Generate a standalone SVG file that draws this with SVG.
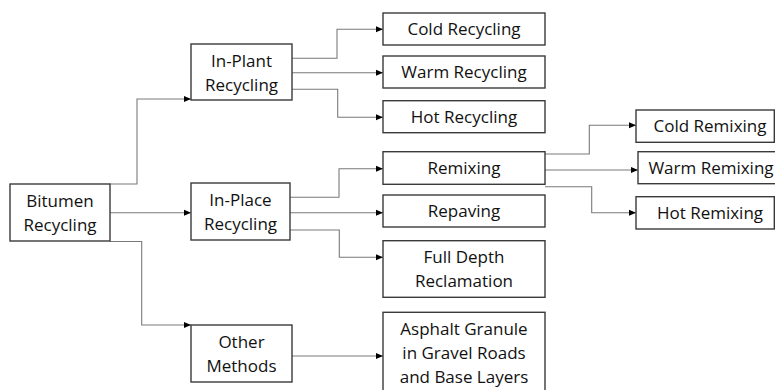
<svg xmlns="http://www.w3.org/2000/svg" width="775" height="390" viewBox="0 0 775 390">
<style>
.box{fill:#fff;stroke:#3a3a3a;stroke-width:1.4}
.t{font-family:"Open Sans","Liberation Sans",sans-serif;font-size:17px;fill:#111;text-anchor:middle}
.c{fill:none;stroke:#7a7a7a;stroke-width:1.1;marker-end:url(#ah)}
</style>
<defs>
<marker id="ah" markerUnits="userSpaceOnUse" markerWidth="8" markerHeight="8" refX="7" refY="4" orient="auto">
<path d="M0,1 L7,4 L0,7 Z" fill="#000"/>
</marker>
</defs>
<rect width="775" height="390" fill="#fff"/>
<g id="connectors">
<path class="c" d="M110,184 H137 V99 H191"/>
<path class="c" d="M110,212.7 H191"/>
<path class="c" d="M110,241.5 H141.7 V325 H191"/>
<path class="c" d="M292,58.3 H337 V29.3 H383"/>
<path class="c" d="M292,72.7 H383"/>
<path class="c" d="M292,89.3 H337.7 V117.3 H383"/>
<path class="c" d="M290,197.3 H339 V168.7 H383"/>
<path class="c" d="M290,212.7 H383"/>
<path class="c" d="M290,230 H339.3 V257.3 H383"/>
<path class="c" d="M292,356 H383"/>
<path class="c" d="M545,154 H589.3 V125.3 H636"/>
<path class="c" d="M545,170 H638"/>
<path class="c" d="M545,186.7 H591.7 V212.7 H636"/>
</g>
<g id="bitumen"><rect class="box" x="10" y="184" width="100" height="57"/><text class="t" x="60" y="206.5">Bitumen</text><text class="t" x="60" y="230.5">Recycling</text></g>
<g id="inplant"><rect class="box" x="191" y="44" width="101" height="56"/><text class="t" x="241.5" y="66.5">In-Plant</text><text class="t" x="241.5" y="90.5">Recycling</text></g>
<g id="inplace"><rect class="box" x="191" y="183" width="99" height="57"/><text class="t" x="240.5" y="205.5">In-Place</text><text class="t" x="240.5" y="229.5">Recycling</text></g>
<g id="other"><rect class="box" x="191" y="325" width="101" height="57"/><text class="t" x="241.5" y="347.5">Other</text><text class="t" x="241.5" y="371.5">Methods</text></g>
<g id="coldrec"><rect class="box" x="383" y="13" width="162" height="32"/><text class="t" x="464" y="35">Cold Recycling</text></g>
<g id="warmrec"><rect class="box" x="383" y="56" width="162" height="32"/><text class="t" x="464" y="78">Warm Recycling</text></g>
<g id="hotrec"><rect class="box" x="383" y="100.7" width="162" height="32"/><text class="t" x="464" y="122.7">Hot Recycling</text></g>
<g id="remixing"><rect class="box" x="383" y="151.7" width="162" height="32.6"/><text class="t" x="464" y="174">Remixing</text></g>
<g id="repaving"><rect class="box" x="383" y="195" width="162" height="32"/><text class="t" x="464" y="217">Repaving</text></g>
<g id="fdr"><rect class="box" x="383" y="240.7" width="162" height="56.6"/><text class="t" x="464" y="263">Full Depth</text><text class="t" x="464" y="287">Reclamation</text></g>
<g id="asphalt"><rect class="box" x="383" y="312.3" width="162" height="90"/><text class="t" x="464" y="335.3">Asphalt Granule</text><text class="t" x="464" y="359.3">in Gravel Roads</text><text class="t" x="464" y="383.3">and Base Layers</text></g>
<g id="coldrem"><rect class="box" x="636" y="110" width="138.3" height="32.3"/><text class="t" x="710" y="132.3">Cold Remixing</text></g>
<g id="warmrem"><rect class="box" x="638" y="151.7" width="150" height="32"/><text class="t" x="711" y="174">Warm Remixing</text></g>
<g id="hotrem"><rect class="box" x="636" y="196.7" width="138.3" height="32.3"/><text class="t" x="710" y="219">Hot Remixing</text></g>
</svg>
